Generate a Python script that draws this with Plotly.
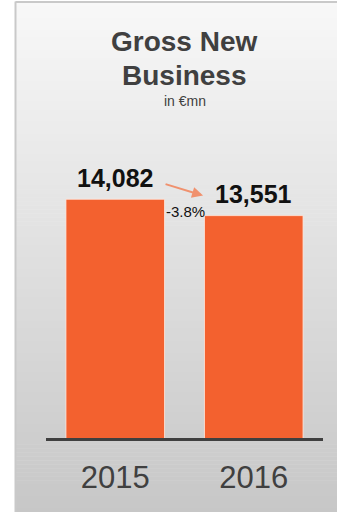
import plotly.graph_objects as go

# Data
years = ["2015", "2016"]
gross_new_business = [14082, 13551]
title_lines = ["Gross New", "Business"]
unit_label = "in €mn"

W, H = 337, 512
BAR_COLOR = "#F3612F"
TEXT_DARK = "#404040"

change_pct = (gross_new_business[1] / gross_new_business[0] - 1) * 100

fig = go.Figure()
fig.add_trace(go.Bar(
    x=years,
    y=gross_new_business,
    width=0.712,
    marker=dict(color=BAR_COLOR, line=dict(color="rgba(255,235,225,0.8)", width=1)),
    hoverinfo="skip",
))

# Panel background: vertical grey gradient built from thin bands
shapes = []
top_px, bot_px = 2, H
n_bands = 128
c_top, c_bot = 248, 199
for i in range(n_bands):
    y0 = top_px + (bot_px - top_px) * i / n_bands
    y1 = top_px + (bot_px - top_px) * (i + 1) / n_bands + 0.6
    t = (i + 0.5) / n_bands
    g = round(c_top + (c_bot - c_top) * t)
    shapes.append(dict(
        type="rect", xref="paper", yref="paper", layer="below",
        x0=15 / W, x1=1.0, y0=1 - y1 / H, y1=1 - y0 / H,
        fillcolor=f"rgb({g},{g},{g})", line=dict(width=0),
    ))
# Panel border (left and top)
shapes.append(dict(type="line", xref="paper", yref="paper", layer="below",
                   x0=15.5 / W, x1=15.5 / W, y0=0, y1=1 - 1.5 / H,
                   line=dict(color="#c9c9c9", width=2)))
shapes.append(dict(type="line", xref="paper", yref="paper", layer="below",
                   x0=15.5 / W, x1=1.0, y0=1 - 2 / H, y1=1 - 2 / H,
                   line=dict(color="#c9c9c9", width=2)))

annotations = []
# Title, one annotation per line
for line, y_px in zip(title_lines, [41, 75]):
    annotations.append(dict(
        text=f"<b>{line}</b>", xref="paper", yref="paper",
        x=184 / W, y=1 - y_px / H, xanchor="center", yanchor="middle",
        showarrow=False, font=dict(family="Liberation Sans", size=28, color=TEXT_DARK),
    ))
annotations += [
    dict(text=unit_label, xref="paper", yref="paper",
         x=184.5 / W, y=1 - 100.5 / H, xanchor="center", yanchor="middle",
         showarrow=False, font=dict(family="Liberation Sans", size=14, color=TEXT_DARK)),
    # Change label between bars
    dict(text=f"{change_pct:.1f}%", x=0.507, y=gross_new_business[1],
         xref="x", yref="y", xanchor="center", yanchor="middle", yshift=4,
         showarrow=False, font=dict(family="Liberation Sans", size=15, color="#111111")),
    # Arrow from 2015 value to 2016 value
    dict(text="", x=0.634, y=gross_new_business[1], xref="x", yref="y", yshift=20,
         showarrow=True, ax=-39, ay=-12, arrowhead=2, arrowsize=1.1, arrowwidth=2,
         arrowcolor="#F0916E"),
]
# Value labels above bars
for i, (v, shift) in enumerate(zip(gross_new_business, [5, 6])):
    annotations.append(dict(
        text=f"<b>{v:,}</b>", x=i, y=v, xref="x", yref="y",
        xanchor="center", yanchor="bottom", yshift=shift, showarrow=False,
        font=dict(family="Liberation Sans", size=25, color="#111111"),
    ))

fig.update_layout(
    width=W, height=H,
    margin=dict(l=0, r=0, t=0, b=0),
    paper_bgcolor="white",
    plot_bgcolor="rgba(0,0,0,0)",
    showlegend=False,
    shapes=shapes,
    annotations=annotations,
    xaxis=dict(
        type="category",
        domain=[46 / W, 323 / W],
        range=[-0.5, 1.5],
        showline=True, linecolor="#3f3f3f", linewidth=3,
        showgrid=False, zeroline=False, ticks="",
        tickfont=dict(family="Liberation Sans", size=31, color=TEXT_DARK),
        ticklabelstandoff=10,
        fixedrange=True,
    ),
    yaxis=dict(
        domain=[1 - 438 / H, 1 - 100 / H],
        range=[6350, 17295],
        visible=False,
        showgrid=False, zeroline=False,
        fixedrange=True,
    ),
)

fig.write_html("out.html")
